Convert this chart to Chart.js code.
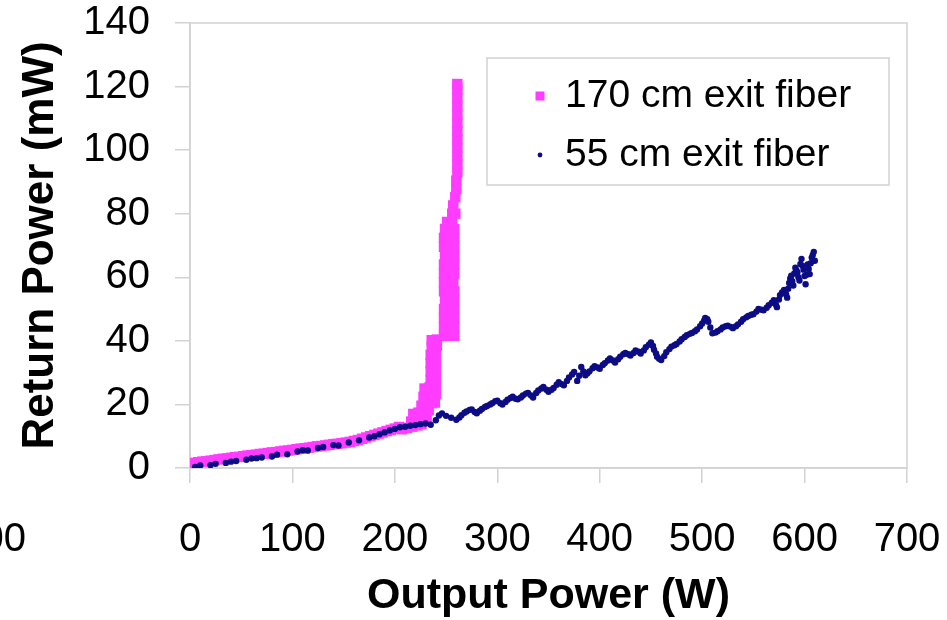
<!DOCTYPE html>
<html><head><meta charset="utf-8">
<script src="https://cdn.jsdelivr.net/npm/chart.js@4"></script>
<style>html,body{margin:0;padding:0;background:#fff}canvas{display:block}</style>
</head><body>
<canvas id="c" width="947" height="620"></canvas>
<script>
const seriesNames = ['170 cm exit fiber', '55 cm exit fiber'];
const xTickValues = [0, 100, 200, 300, 400, 500, 600, 700];
const yTickValues = [0, 20, 40, 60, 80, 100, 120, 140];

// 170 cm exit fiber (W, mW)
const fiber170 = [
  [0,1.4],[4,1.6],[8,1.8],[12,2.0],[16,2.1],[20,2.3],[24,2.5],[28,2.7],[32,2.9],[36,3.0],
  [40,3.2],[44,3.4],[48,3.5],[52,3.7],[56,3.9],[60,4.0],[64,4.2],[68,4.4],[72,4.5],[76,4.7],
  [80,4.9],[84,5.0],[88,5.2],[92,5.4],[96,5.5],[100,5.7],[104,5.9],[108,6.1],[112,6.2],[116,6.4],
  [120,6.6],[124,6.8],[128,6.9],[132,7.1],[136,7.3],[140,7.5],[144,7.6],[148,7.8],[152,8.0],[156,8.2],
  [160,8.5],[164,8.8],[168,9.2],[172,9.6],[176,10.0],[180,10.4],[184,10.8],[188,11.2],[192,11.6],[196,12.0],
  [200,12.4],[204,12.9],
  [207,12.2],[212,12.6],[217,13.0],[222,13.4],[226,13.8],
  [216,14.6],[221,15.0],[226,15.4],[231,15.8],
  [218,17.0],[223,17.4],[228,17.8],[233,18.2],
  [226,19.6],[231,20.0],[236,20.4],[239,20.6],
  [228,22.4],[233,22.8],[238,23.2],[240,23.4],
  [229,25.0],[234,25.4],[239,25.8],[240,26.4],
  [235,27.8],[240,28.0],[235,30.4],[240,30.6],[235,33.0],[240,33.2],[235,35.6],[240,35.8],
  [236,38.2],[241,38.4],[236,40.2],[241,40.4],
  [248,41.6],[253,41.6],[258,41.6],
  [248,44.4],[253,44.4],[258,44.4],[248,47.2],[253,47.2],[258,47.2],
  [248,50.0],[253,50.0],[258,50.0],[249,52.8],[253,52.8],[258,52.8],
  [248,55.6],[253,55.6],[258,55.6],[248,58.4],[253,58.4],[257,58.4],
  [248,61.2],[253,61.2],[258,61.2],[248,64.0],[253,64.0],[258,64.0],
  [249,66.8],[253,66.8],[258,66.8],[248,69.6],[253,69.6],[258,69.6],
  [248,72.4],[253,72.4],[258,72.4],[249,75.2],[254,75.2],[258,75.2],[251,77.4],[256,77.4],
  [256,80.0],[259,80.0],[257,82.6],[259,85.2],[260,87.8],[260,90.4],
  [261,93.0],[261,95.6],[261,98.2],[261,100.8],[261,103.4],[261,106.0],[261,108.6],[261,111.2],
  [261,113.8],[261,116.4],[261,119.0],[261,120.8]
];

// 55 cm exit fiber (W, mW)
const fiber55 = [
  [5,0.3],[10,0.8],[20,0.9],[25,1.3],[35,1.6],[40,2.0],[45,2.2],[55,2.6],[60,3.0],[65,3.1],
  [70,3.3],[80,3.6],[85,4.2],[95,4.3],[105,5.2],[110,5.6],[115,5.5],[125,6.3],[130,6.6],[140,7.2],
  [145,7.1],[155,8.0],[165,8.7],[175,9.6],[180,10.0],[185,10.6],[190,11.2],[195,11.8],[200,12.3],
  [205,12.8],[210,13.0],[215,13.3],[220,13.5],[225,13.8],[230,14.0],[235,13.6],[240,15.0],[243,16.5],[246,17.2],
  [250,16.4],[255,15.8],[260,15.2],[263,15.9],[265,16.6],[268,17.4],[270,17.8],
  [273,18.3],[275,18.4],[278,17.6],[280,17.2],[283,18.0],[285,18.6],[288,19.2],[290,19.5],[293,20.0],
  [295,20.4],[298,21.0],[300,21.2],[303,20.4],[305,20.0],[308,20.8],[310,21.5],[313,22.0],[315,22.4],
  [318,21.8],[320,21.6],[323,22.2],[325,22.8],[328,23.4],[330,23.6],[333,22.8],[335,22.2],[338,23.6],
  [340,24.4],[343,25.0],[345,25.5],[348,24.6],[350,24.0],[353,24.6],[355,25.2],[358,26.2],[360,27.0],
  [363,26.4],[365,26.0],[368,27.4],[370,28.5],[373,29.4],[375,30.2],[378,27.4],[380,29.0],[382,31.8],
  [384,30.4],[386,29.2],[388,29.8],[390,30.4],[393,31.4],[395,32.0],[398,31.6],[400,31.2],[403,32.4],
  [405,33.0],[408,33.8],[410,34.5],[413,33.8],[415,33.2],[418,34.2],[420,35.0],[423,35.8],[425,36.2],
  [428,35.8],[430,35.4],[433,36.2],[435,37.0],[438,36.6],[440,36.0],[443,37.0],[445,38.0],[448,38.8],
  [450,39.5],[452,38.4],[453,37.2],[455,36.0],[456,35.0],[458,34.4],[460,34.0],[463,35.2],[465,36.4],
  [468,37.4],[470,38.2],[473,38.6],[475,39.0],[478,39.8],[480,40.5],[483,41.2],[485,41.8],[488,42.2],
  [490,42.5],[493,43.0],[495,43.6],[498,44.6],[500,45.5],[502,46.4],[503,47.2],[505,46.8],[506,46.0],
  [508,44.2],[510,42.4],[513,42.6],[515,43.0],[518,43.6],[520,44.2],[523,44.6],[525,44.8],[528,44.4],
  [530,44.0],[533,44.6],[535,45.2],[538,46.0],[540,46.8],[543,47.4],[545,47.8],[548,48.2],[550,48.4],
  [553,49.2],[555,50.0],[558,49.8],[560,49.6],[563,50.4],[565,51.2],[568,52.0],[570,52.8],[572,51.4],
  [573,50.6],[575,53.0],[576,54.4],[578,55.2],[580,56.0],[582,54.6],[583,53.6],[584,56.4],[585,58.2],
  [586,59.6],[587,60.5],[588,58.8],[589,57.4],[590,61.2],[591,63.0],[592,62.2],[593,61.6],[594,60.0],
  [595,59.0],[596,64.2],[597,65.8],[598,63.6],[599,62.4],[600,60.4],[601,57.8],[602,60.8],[603,64.0],
  [604,62.6],[605,61.0],[606,64.4],[607,66.2],[608,67.0],[609,68.0],[610,65.2]
];

const FONT = '"Liberation Sans", Arial, Helvetica, sans-serif';
const GRAY = '#d2d2d2';

const framePlugin = {
  id: 'frame',
  beforeDatasetsDraw(chart) {
    const {ctx, chartArea: a} = chart;
    ctx.save();
    ctx.strokeStyle = GRAY; ctx.lineWidth = 1.5;
    ctx.strokeRect(a.left, a.top, a.right - a.left, a.bottom - a.top);
    ctx.restore();
  },
  afterDraw(chart) {
    const {ctx, chartArea: a} = chart;
    ctx.save();
    const bw = 402, bh = 127;
    const bx = a.right - 18 - bw, by = a.top + 35;
    ctx.fillStyle = '#fff'; ctx.fillRect(bx, by, bw, bh);
    ctx.strokeStyle = GRAY; ctx.lineWidth = 1.5; ctx.strokeRect(bx, by, bw, bh);
    ctx.font = '39px ' + FONT; ctx.textBaseline = 'middle'; ctx.textAlign = 'left';
    chart.data.datasets.forEach((ds, i) => {
      const cy = by + 38 + i * 59;
      const mx = bx + 53;
      ctx.fillStyle = ds.backgroundColor;
      if (ds.pointStyle === 'rect') {
        ctx.fillRect(mx - 4.5, cy - 4.5, 9, 9);
      } else {
        ctx.beginPath(); ctx.arc(mx, cy, 2.4, 0, Math.PI * 2); ctx.fill();
      }
      ctx.fillStyle = '#000';
      ctx.fillText(ds.label, bx + 78, cy);
    });
    ctx.font = '40px ' + FONT; ctx.textAlign = 'right'; ctx.textBaseline = 'middle';
    ctx.fillStyle = '#000';
    ctx.fillText(String(xTickValues[xTickValues.length - 1]), 26, a.bottom + 72);
    ctx.restore();
  }
};

new Chart(document.getElementById('c'), {
  type: 'scatter',
  data: {
    datasets: [
      { label: seriesNames[0], data: fiber170.map(([x, y]) => ({x, y})),
        pointStyle: 'rect', pointRadius: 7.4, pointHoverRadius: 7.4,
        backgroundColor: '#ff3cff', borderColor: '#ff3cff', borderWidth: 0, order: 2 },
      { label: seriesNames[1], data: fiber55.map(([x, y]) => ({x, y})),
        pointStyle: 'circle', pointRadius: 3.2, pointHoverRadius: 3.2,
        backgroundColor: '#0c0c84', borderColor: '#0c0c84', borderWidth: 0, order: 1 }
    ]
  },
  options: {
    responsive: false, animation: false, devicePixelRatio: 1,
    layout: { padding: { left: 0, top: 23, right: 40, bottom: 0 } },
    plugins: { legend: { display: false }, tooltip: { enabled: false } },
    scales: {
      x: {
        type: 'linear', min: xTickValues[0], max: xTickValues[xTickValues.length - 1],
        afterBuildTicks: s => { s.ticks = xTickValues.map(v => ({value: v})); },
        afterFit: s => { s.height = 152; s.paddingLeft = 0; s.paddingRight = 0; },
        grid: { drawOnChartArea: false, drawTicks: true, tickLength: 15, color: GRAY, lineWidth: 1.5 },
        border: { display: true, color: GRAY, width: 1.5 },
        ticks: { color: '#000', font: { family: FONT, size: 40 }, padding: 33, maxRotation: 0, autoSkip: false },
        title: { display: true, text: 'Output Power (W)', color: '#000',
          font: { family: FONT, size: 43, weight: 'bold', lineHeight: 1.1 }, padding: { top: 0, bottom: 0 } }
      },
      y: {
        type: 'linear', min: yTickValues[0], max: yTickValues[yTickValues.length - 1],
        afterBuildTicks: s => { s.ticks = yTickValues.map(v => ({value: v})); },
        afterFit: s => { s.width = 190; s.paddingTop = 0; s.paddingBottom = 0; },
        grid: { drawOnChartArea: false, drawTicks: true, tickLength: 15, color: GRAY, lineWidth: 1.5 },
        border: { display: true, color: GRAY, width: 1.5 },
        ticks: { color: '#000', font: { family: FONT, size: 40 }, padding: 25, autoSkip: false },
        title: { display: true, text: 'Return Power (mW)', color: '#000',
          font: { family: FONT, size: 44, weight: 'bold', lineHeight: 1.2 }, padding: { top: 14, bottom: 0 } }
      }
    }
  },
  plugins: [framePlugin]
});
</script>
</body></html>
